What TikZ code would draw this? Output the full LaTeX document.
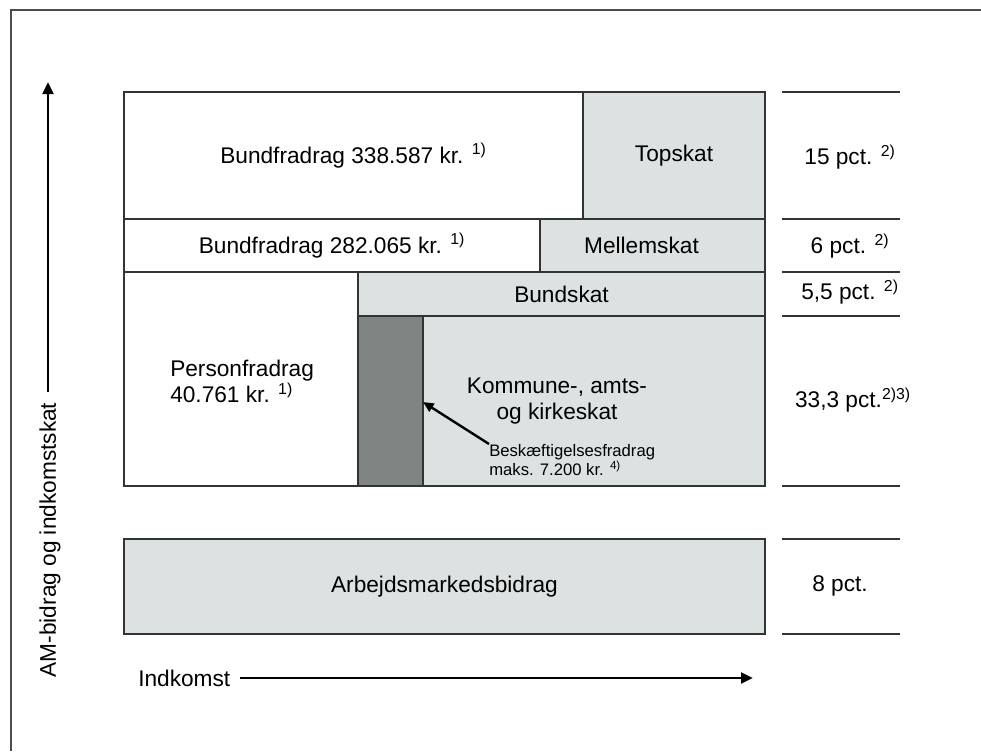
\documentclass[tikz,border=0pt]{standalone}
\usepackage{fontspec}
\setmainfont{Liberation Sans}
\usepackage{tikz}
\usetikzlibrary{arrows.meta}
\definecolor{taxgray}{HTML}{DCE1E1}
\definecolor{bargray}{HTML}{7E8583}
\definecolor{linegray}{HTML}{333333}
\newdimen\px \px=0.75pt
\newcommand{\fn}[1]{\textsuperscript{#1}}

\tikzset{
  cell/.style={draw=linegray, line width=1.1pt, inner sep=0pt, outer sep=0pt,
    font=\fontsize{17}{20}\selectfont},
  taxcell/.style={cell, fill=taxgray},
  label/.style={inner sep=0pt, font=\fontsize{17}{20}\selectfont},
  smalllabel/.style={inner sep=0pt, align=left, font=\fontsize{12.5}{12}\selectfont},
  axis/.style={line width=2.2pt, -{Triangle[length=9pt,width=8pt]}},
}

\begin{document}
\begin{tikzpicture}[x=0.75pt, y=-0.75pt]
        \useasboundingbox (0,0) rectangle (981,751);

        % frame
        \draw[line width=1pt, black!70] (981,10) -- (11,10) -- (11,751);

        \node[cell, fill=white, minimum width=459\px, minimum height=127\px] (bundtop) at (353.5,155.5) {Bundfradrag 338.587 kr. \fn{1)}};
        \node[taxcell, minimum width=182\px, minimum height=127\px] (top) at (674,155.5) {Topskat};

        \node[cell, fill=white, minimum width=416\px, minimum height=53\px] (bundmid) at (332,245.5) {Bundfradrag 282.065 kr. \fn{1)}};
        \node[taxcell, minimum width=225\px, minimum height=53\px] (mellem) at (652.5,245.5) {\hspace*{-22\px}Mellemskat};

        \node[cell, fill=white, minimum width=234\px, minimum height=214\px] (person) at (241,379) {};
        \node[taxcell, minimum width=407\px, minimum height=44\px] (bund) at (561.5,294) {Bundskat};
        \node[cell, fill=bargray, minimum width=65\px, minimum height=170\px] (bar) at (390.5,401) {};
        \node[taxcell, minimum width=342\px, minimum height=170\px] (kommune) at (594,401) {};

        \node[taxcell, minimum width=641\px, minimum height=95\px] (am) at (444.5,586.5) {Arbejdsmarkedsbidrag};

        % texts
        \node[label, align=left, anchor=west] (persontxt) at (170,381.5) {Personfradrag\\40.761 kr. \fn{1)}};
        \node[label, align=center] (kommunetxt) at (557,401) {Kommune-, amts-\\og kirkeskat};
        \node[smalllabel, anchor=north west] (besk) at (489,444) {Beskæftigelsesfradrag\\maks. 7.200 kr. \fn{4)}};
        \draw[line width=1.8pt, -{Triangle[length=8pt,width=7pt]}] (besk.north west) -- (bar.east |- 0,402);

        % rates
        \foreach \y in {92,219,272,316,486,539,634}
          \draw[line width=1pt, linegray] (782,\y) -- (900,\y);
        \node[label] (r1) at (850,157) {15 pct. \fn{2)}};
        \node[label] (r2) at (850,246) {6 pct. \fn{2)}};
        \node[label] (r3) at (850,292) {5,5 pct. \fn{2)}};
        \node[label] (r4) at (853,400) {33,3 pct.\fn{2)3)}};
        \node[label] (r5) at (840,586) {8 pct.};

        % axes
        \node[label, rotate=90] (ylab) at (50,540) {AM-bidrag og indkomstskat};
        \coordinate (ytip) at (48,82);
        \draw[axis] (48,392) -- (ytip);
        \node[label, anchor=west] (xlab) at (138,678) {Indkomst};
        \coordinate (xtip) at (753,678);
        \draw[axis] (xlab.east) ++(10,0) -- (xtip);

\end{tikzpicture}
\end{document}
